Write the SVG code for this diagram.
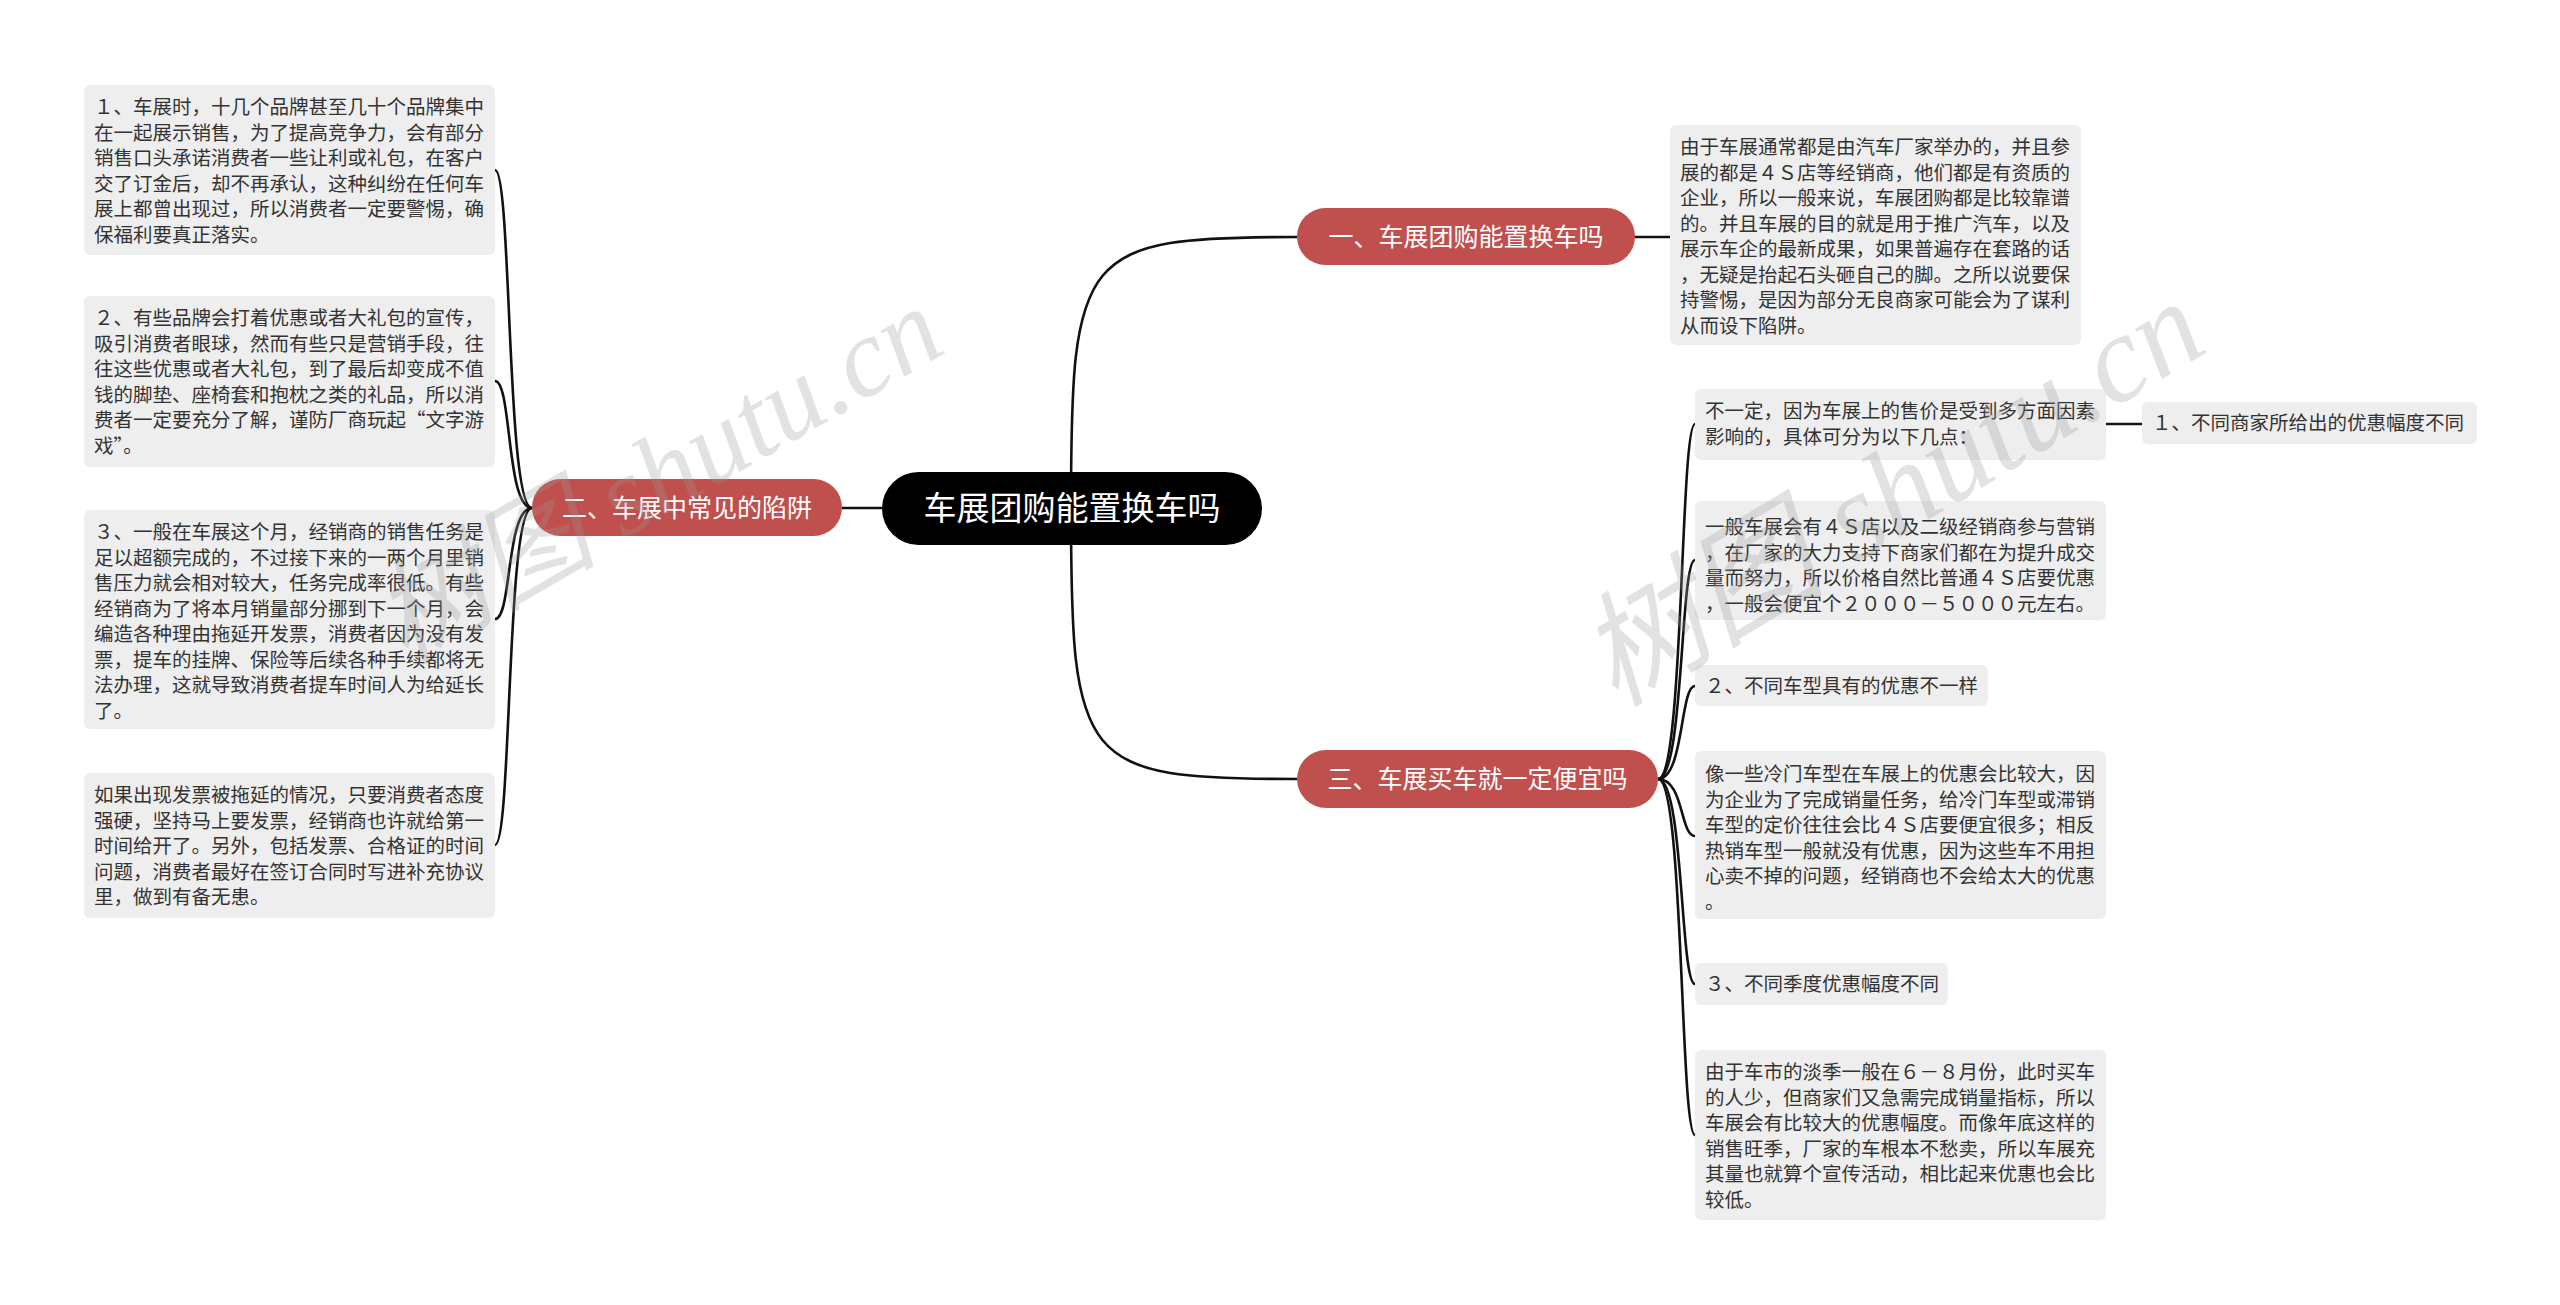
<svg xmlns="http://www.w3.org/2000/svg" width="2560" height="1305" viewBox="0 0 2560 1305">
<style>
.box{fill:#eeeeee;}
.t{font-family:"Noto Sans CJK SC","Liberation Sans",sans-serif;font-size:19.5px;fill:#333333;}
.pill{fill:#c0504d;}
.pt{font-family:"Noto Sans CJK SC","Liberation Sans",sans-serif;font-size:25px;fill:#ffffff;text-anchor:middle;}
.ct{font-family:"Noto Sans CJK SC","Liberation Sans",sans-serif;font-size:33px;fill:#ffffff;text-anchor:middle;}
.ln{fill:none;stroke:#111111;stroke-width:2.6;}
.wm{font-family:"Liberation Serif","Noto Sans CJK SC",serif;font-style:italic;fill:#999999;opacity:0.28;}
</style>
<rect width="2560" height="1305" fill="#ffffff"/>
<g id="connectors">
<path class="ln" d="M1071 508 C1071 250 1080 237 1297 237"/>
<path class="ln" d="M1071 508 C1071 766 1080 779 1297 779"/>
<path class="ln" d="M882 508 L842 508"/>
<path class="ln" d="M1635 237 L1670 237"/>
<path class="ln" d="M532 508 C506 508 512 170 495 170"/>
<path class="ln" d="M532 508 C506 508 512 381 495 381"/>
<path class="ln" d="M532 508 C506 508 512 619 495 619"/>
<path class="ln" d="M532 508 C506 508 512 845 495 845"/>
<path class="ln" d="M1658 779 C1684 779 1680 424 1695 424"/>
<path class="ln" d="M1658 779 C1684 779 1680 560 1695 560"/>
<path class="ln" d="M1658 779 C1684 779 1680 686 1695 686"/>
<path class="ln" d="M1658 779 C1684 779 1680 836 1695 836"/>
<path class="ln" d="M1658 779 C1684 779 1680 984 1695 984"/>
<path class="ln" d="M1658 779 C1684 779 1680 1135 1695 1135"/>
<path class="ln" d="M2106 424 L2142 424"/>
</g>
<g id="root">
<rect x="882" y="472" width="380" height="73" rx="36.5" fill="#000000"/>
<text class="ct" x="1072" y="520">车展团购能置换车吗</text>
</g>
<g id="b1">
<rect class="pill" x="1297" y="208" width="338" height="57" rx="28.5"/>
<text class="pt" x="1466" y="245.5">一、车展团购能置换车吗</text>
</g>
<g id="b2">
<rect class="pill" x="532" y="479" width="310" height="57" rx="28.5"/>
<text class="pt" x="687" y="516.5">二、车展中常见的陷阱</text>
</g>
<g id="b3">
<rect class="pill" x="1297" y="750" width="361" height="58" rx="29"/>
<text class="pt" x="1477.5" y="788">三、车展买车就一定便宜吗</text>
</g>
<g id="r1">
<rect class="box" x="1670" y="125" width="411" height="220" rx="6"/>
<text class="t" x="1680" y="154"><tspan x="1680" dy="0">由于车展通常都是由汽车厂家举办的，并且参</tspan><tspan x="1680" dy="25.5">展的都是４Ｓ店等经销商，他们都是有资质的</tspan><tspan x="1680" dy="25.5">企业，所以一般来说，车展团购都是比较靠谱</tspan><tspan x="1680" dy="25.5">的。并且车展的目的就是用于推广汽车，以及</tspan><tspan x="1680" dy="25.5">展示车企的最新成果，如果普遍存在套路的话</tspan><tspan x="1680" dy="25.5">，无疑是抬起石头砸自己的脚。之所以说要保</tspan><tspan x="1680" dy="25.5">持警惕，是因为部分无良商家可能会为了谋利</tspan><tspan x="1680" dy="25.5">从而设下陷阱。</tspan></text>
</g>
<g id="l1">
<rect class="box" x="84" y="85" width="411" height="170" rx="6"/>
<text class="t" x="94" y="114"><tspan x="94" dy="0">１、车展时，十几个品牌甚至几十个品牌集中</tspan><tspan x="94" dy="25.5">在一起展示销售，为了提高竞争力，会有部分</tspan><tspan x="94" dy="25.5">销售口头承诺消费者一些让利或礼包，在客户</tspan><tspan x="94" dy="25.5">交了订金后，却不再承认，这种纠纷在任何车</tspan><tspan x="94" dy="25.5">展上都曾出现过，所以消费者一定要警惕，确</tspan><tspan x="94" dy="25.5">保福利要真正落实。</tspan></text>
</g>
<g id="l2">
<rect class="box" x="84" y="296" width="411" height="171" rx="6"/>
<text class="t" x="94" y="325"><tspan x="94" dy="0">２、有些品牌会打着优惠或者大礼包的宣传，</tspan><tspan x="94" dy="25.5">吸引消费者眼球，然而有些只是营销手段，往</tspan><tspan x="94" dy="25.5">往这些优惠或者大礼包，到了最后却变成不值</tspan><tspan x="94" dy="25.5">钱的脚垫、座椅套和抱枕之类的礼品，所以消</tspan><tspan x="94" dy="25.5">费者一定要充分了解，谨防厂商玩起“文字游</tspan><tspan x="94" dy="25.5">戏”。</tspan></text>
</g>
<g id="l3">
<rect class="box" x="84" y="510" width="411" height="219" rx="6"/>
<text class="t" x="94" y="539"><tspan x="94" dy="0">３、一般在车展这个月，经销商的销售任务是</tspan><tspan x="94" dy="25.5">足以超额完成的，不过接下来的一两个月里销</tspan><tspan x="94" dy="25.5">售压力就会相对较大，任务完成率很低。有些</tspan><tspan x="94" dy="25.5">经销商为了将本月销量部分挪到下一个月，会</tspan><tspan x="94" dy="25.5">编造各种理由拖延开发票，消费者因为没有发</tspan><tspan x="94" dy="25.5">票，提车的挂牌、保险等后续各种手续都将无</tspan><tspan x="94" dy="25.5">法办理，这就导致消费者提车时间人为给延长</tspan><tspan x="94" dy="25.5">了。</tspan></text>
</g>
<g id="l4">
<rect class="box" x="84" y="773" width="411" height="145" rx="6"/>
<text class="t" x="94" y="802"><tspan x="94" dy="0">如果出现发票被拖延的情况，只要消费者态度</tspan><tspan x="94" dy="25.5">强硬，坚持马上要发票，经销商也许就给第一</tspan><tspan x="94" dy="25.5">时间给开了。另外，包括发票、合格证的时间</tspan><tspan x="94" dy="25.5">问题，消费者最好在签订合同时写进补充协议</tspan><tspan x="94" dy="25.5">里，做到有备无患。</tspan></text>
</g>
<g id="r3a">
<rect class="box" x="1695" y="389" width="411" height="71" rx="6"/>
<text class="t" x="1705" y="418"><tspan x="1705" dy="0">不一定，因为车展上的售价是受到多方面因素</tspan><tspan x="1705" dy="25.5">影响的，具体可分为以下几点：</tspan></text>
</g>
<g id="r3a1">
<rect class="box" x="2142" y="402" width="335" height="42" rx="6"/>
<text class="t" x="2152" y="430">１、不同商家所给出的优惠幅度不同</text>
</g>
<g id="r3b">
<rect class="box" x="1695" y="501" width="411" height="119" rx="6"/>
<text class="t" x="1705" y="534"><tspan x="1705" dy="0">一般车展会有４Ｓ店以及二级经销商参与营销</tspan><tspan x="1705" dy="25.5">，在厂家的大力支持下商家们都在为提升成交</tspan><tspan x="1705" dy="25.5">量而努力，所以价格自然比普通４Ｓ店要优惠</tspan><tspan x="1705" dy="25.5">，一般会便宜个２０００－５０００元左右。</tspan></text>
</g>
<g id="r3c">
<rect class="box" x="1695" y="665" width="293" height="41" rx="6"/>
<text class="t" x="1705" y="693">２、不同车型具有的优惠不一样</text>
</g>
<g id="r3d">
<rect class="box" x="1695" y="751" width="411" height="168" rx="6"/>
<text class="t" x="1705" y="781"><tspan x="1705" dy="0">像一些冷门车型在车展上的优惠会比较大，因</tspan><tspan x="1705" dy="25.5">为企业为了完成销量任务，给冷门车型或滞销</tspan><tspan x="1705" dy="25.5">车型的定价往往会比４Ｓ店要便宜很多；相反</tspan><tspan x="1705" dy="25.5">热销车型一般就没有优惠，因为这些车不用担</tspan><tspan x="1705" dy="25.5">心卖不掉的问题，经销商也不会给太大的优惠</tspan><tspan x="1705" dy="25.5">。</tspan></text>
</g>
<g id="r3e">
<rect class="box" x="1695" y="963" width="253" height="42" rx="6"/>
<text class="t" x="1705" y="991">３、不同季度优惠幅度不同</text>
</g>
<g id="r3f">
<rect class="box" x="1695" y="1050" width="411" height="170" rx="6"/>
<text class="t" x="1705" y="1079"><tspan x="1705" dy="0">由于车市的淡季一般在６－８月份，此时买车</tspan><tspan x="1705" dy="25.5">的人少，但商家们又急需完成销量指标，所以</tspan><tspan x="1705" dy="25.5">车展会有比较大的优惠幅度。而像年底这样的</tspan><tspan x="1705" dy="25.5">销售旺季，厂家的车根本不愁卖，所以车展充</tspan><tspan x="1705" dy="25.5">其量也就算个宣传活动，相比起来优惠也会比</tspan><tspan x="1705" dy="25.5">较低。</tspan></text>
</g>
<g id="watermarks">
<text class="wm" font-size="112" transform="translate(405 665) rotate(-30)">树图 shutu.cn</text>
<text class="wm" font-size="124" transform="translate(1615 708) rotate(-31)">树图 shutu.cn</text>
</g>
</svg>
